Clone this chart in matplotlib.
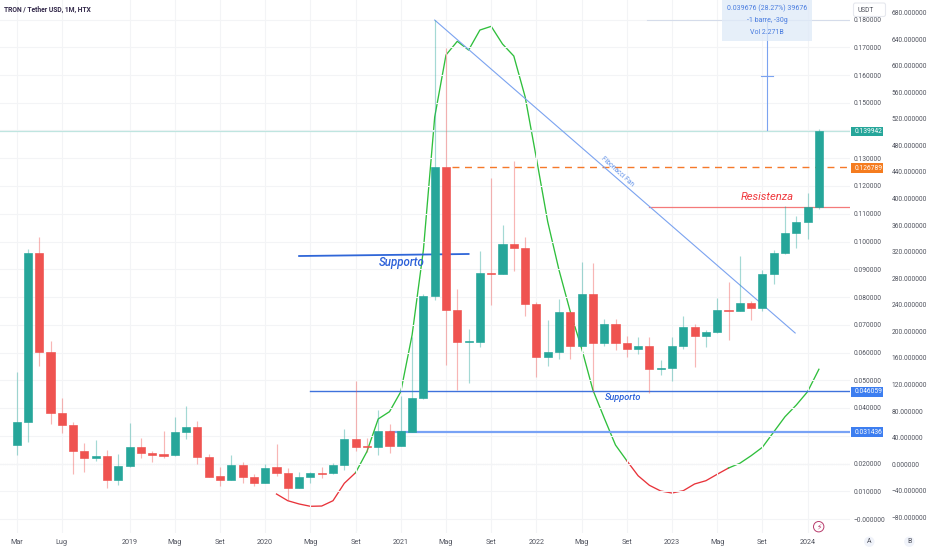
import matplotlib
matplotlib.use("Agg")
import matplotlib.pyplot as plt
from matplotlib.patches import Rectangle, Circle, FancyBboxPatch

plt.rcParams['font.family'] = ['Roboto', 'DejaVu Sans']

W, H = 932, 550

open_ = [.02655,.03495,.09598,.06006,.03808,.03375,.02450,.02198,.02258,.01393,.01898,.02583,.02366,.02330,.02294,.03123,.03315,.02234,.01538,.01417,.01946,.01526,.01309,.01862,.01670,.01129,.01526,.01658,.01646,.01934,.02883,.02619,.02595,.03159,.02631,.03147,
         .04348,.08048,.12685,.07532,.06390,.06390,.08865,.08829,.09910,.09754,.07748,.05838,.06030,.07459,.06246,.08108,.06330,.07027,.06354,.06138,.06246,.05405,.05453,.06246,.06907,.06595,.06739,.07532,.07496,.07772,.07604,.08841,.09574,.10318,.10703,.11255]
close = [.03495,.09598,.06006,.03808,.03375,.02450,.02198,.02258,.01405,.01898,.02583,.02366,.02306,.02282,.03123,.03315,.02234,.01514,.01417,.01946,.01514,.01309,.01850,.01658,.01129,.01526,.01646,.01634,.01946,.02883,.02607,.02583,.03159,.02631,.03159,.04360,
         .08048,.12685,.07532,.06390,.06400,.08865,.08829,.09910,.09754,.07748,.05838,.06030,.07459,.06246,.08108,.06330,.07027,.06354,.06138,.06246,.05405,.05453,.06246,.06907,.06595,.06739,.07520,.07508,.07772,.07604,.08841,.09574,.10318,.10703,.11255,.13994]
high = [.05309,.09742,.10174,.06402,.04348,.03495,.02727,.02835,.02498,.02330,.03447,.02907,.02450,.03159,.03688,.04072,.03544,.02342,.01862,.02294,.02054,.01622,.01982,.02691,.01838,.01682,.01706,.01862,.02018,.03243,.04985,.02907,.03928,.03423,.04432,.06570,
        .08108,.17980,.16970,.08288,.06835,.09646,.12276,.10607,.12913,.10174,.07808,.07159,.07940,.07471,.09249,.09213,.07195,.07207,.06595,.06547,.06547,.05730,.06559,.07303,.07015,.06811,.07964,.08553,.09477,.07844,.08961,.09682,.11279,.10919,.11760,.14054]
low = [.02318,.02787,.05514,.03411,.03111,.01610,.01706,.02078,.01105,.01213,.01862,.02210,.02066,.02198,.02270,.02895,.01982,.01514,.01201,.01405,.01285,.01189,.01285,.01562,.00685,.01129,.01285,.01489,.01634,.01766,.02450,.02402,.02294,.02366,.02631,.03147,
       .04310,.07892,.05550,.04649,.04913,.06210,.07712,.08817,.08937,.07315,.05117,.05514,.05754,.05766,.06234,.04589,.06234,.06090,.05838,.05946,.04553,.05189,.04973,.06114,.05489,.06210,.06691,.06450,.07484,.07171,.07508,.08468,.09562,.09766,.10102,.11183]

osc_start = 23
osc = [-44.7,-54.8,-59.7,-63.2,-62.8,-54.8,-28.6,-12.6,19,68.2,79.2,109.3,194.6,322.5,522.6,616,636.6,623.4,653.5,659.1,632.5,614.4,553.2,460.5,365.1,292.4,229.6,174.6,111.8,69.7,29,5.4,-17.2,-31.6,-40.2,-43.2,-39.7,-29.6,-24.7,-15,-5.6,1.5,12.9,25.6,48.6,71.6,89.2,109.3,143]

xtick_pos = [0,4,10,14,18,22,26,30,34,38,42,46,50,54,58,62,66,70]
xtick_labels = ['Mar','Lug','2019','Mag','Set','2020','Mag','Set','2021','Mag','Set','2022','Mag','Set','2023','Mag','Set','2024']
price_ticks = [i/100 for i in range(19)]
hidden_prices = (3, 14)   # covered by the price badges in the reference
price_labels = ['−0.000000'] + ['' if i in hidden_prices else f'{i/100:.6f}' for i in range(1,19)]
osc_ticks = list(range(-80, 681, 40))
osc_labels = [(f'−{abs(v):.6f}' if v < 0 else f'{v:.6f}') for v in osc_ticks]

last_price = 0.139942
orange_level = 0.126789
resist_level = 0.11255
support_1 = 0.046059
support_2 = 0.031436

TEAL, RED = '#26a69a', '#ef5350'
BLUE = '#3f72dc'
LBLUE = '#7ba3f0'
TXT = '#50535e'
FS = 4.75

fig = plt.figure(figsize=(W/100, H/100), dpi=100, facecolor='white')
rect = [0, 1-533/H, 850/W, 533/H]
ax2 = fig.add_axes(rect, zorder=1)
ax = fig.add_axes(rect, zorder=2)
ax.patch.set_visible(False)

xl = (-16.6/11.3, (850-16.6)/11.3)
ax.set_xlim(*xl); ax2.set_xlim(*xl)
ax.set_ylim(-14/2775, 519/2775)
ax2.set_ylim((464.3-533)/.6645, 464.3/.6645)

for s in list(ax.spines.values()) + list(ax2.spines.values()):
    s.set_visible(False)

ax.yaxis.tick_right()
ax.set_yticks(price_ticks); ax.set_yticklabels(price_labels)
ax.tick_params(axis='y', length=0, pad=2.8, labelsize=FS, labelcolor=TXT)
ax.set_xticks(xtick_pos); ax.set_xticklabels(xtick_labels)
ax.tick_params(axis='x', length=0, pad=4.4, labelsize=5.2, labelcolor=TXT)
ax.grid(True, color='#f3f4f6', lw=0.8)
ax.set_axisbelow(True)

ax2.yaxis.tick_right()
ax2.set_yticks(osc_ticks); ax2.set_yticklabels(osc_labels)
ax2.tick_params(axis='y', length=0, pad=30.0, labelsize=FS, labelcolor=TXT)
ax2.set_xticks([])

# oscillator: one continuous path per colour run
def osc_color(i):
    return '#e8333a' if osc[i] < 0 else '#2fbf3c'

run_start = 0
for i in range(1, len(osc)):
    if i == len(osc)-1 or osc_color(i+1) != osc_color(i):
        xs = [osc_start+j for j in range(run_start, i+1)]
        ax2.plot(xs, osc[run_start:i+1], color=osc_color(i), lw=0.95, solid_joinstyle='round')
        run_start = i
ax2.axhline(0, color='#cfcfd4', lw=0.8, ls=(0, (1, 1)))

# drawings (under the candles)
ax.axhline(last_price, color='#bfe5e0', lw=0.9, zorder=1.5)
ax.plot([38.5, xl[1]], [orange_level]*2, color='#f5792a', lw=1.0, ls=(0, (5, 4)), zorder=1.5)
ax.plot([56, xl[1]], [resist_level]*2, color='#f47a7a', lw=0.9, zorder=1.5)
ax.plot([26, xl[1]], [support_1]*2, color=BLUE, lw=1.0, zorder=1.5)
ax.plot([33, xl[1]], [support_2]*2, color='#78a2f5', lw=1.6, zorder=1.5)
ax.plot([25, 40], [.09477, .0955], color='#2f66d8', lw=1.3, zorder=1.5)
ax.plot([37, 68.9], [.1798, .06703], color=LBLUE, lw=0.8, zorder=1.5)
ax.plot([55.8, xl[1]], [.1798]*2, color='#d5dcea', lw=0.8, zorder=1.5)
ax.plot([66.4, 66.4], [.1402, .1798], color=LBLUE, lw=0.8, zorder=1.8)
ax.plot([65.9, 66.9], [.1598, .1598], color=LBLUE, lw=0.8, zorder=1.8)

# candles
for i, (o, h, l, c) in enumerate(zip(open_, high, low, close)):
    col = TEAL if c >= o else RED
    ax.plot([i, i], [l, h], color=col, alpha=.42, lw=0.85, zorder=2, solid_capstyle='butt')
    ax.bar(i, abs(c-o), bottom=min(o, c), width=.72, color=col, edgecolor=col, linewidth=.45, zorder=3)

# overlay in pixel coordinates
ov = fig.add_axes([0, 0, 1, 1], zorder=5)
ov.set_xlim(0, W); ov.set_ylim(H, 0); ov.axis('off')

ov.add_patch(Rectangle((722, 0), 90, 41, fc='#e0ebf8', ec='none', alpha=.8, zorder=1))
for t, y in [('0.039676 (28.27%) 39676', 8), ('-1 barre, -30g', 20.5), ('Vol 2.271B', 33)]:
    ov.text(767, y, t, ha='center', va='center', fontsize=5, color='#4a7de0', zorder=2)

ov.text(4, 9.5, 'TRON / Tether USD, 1M, HTX', ha='left', va='center', fontsize=4.85,
        color='#33294a', fontweight='bold')
ov.text(379, 262.7, 'Supporto', ha='left', va='center', fontsize=8.3, style='italic',
        fontweight='medium', color='#2a5fd8')
ov.text(605, 398, 'Supporto', ha='left', va='center', fontsize=6.6, style='italic',
        fontweight='medium', color='#2a5fd8')
ov.text(740.5, 196.7, 'Resistenza', ha='left', va='center', fontsize=8.1, style='italic',
        color='#f0393e')
ov.text(617.5, 171.5, 'Fibonacci Fan', ha='center', va='center', fontsize=4.8, rotation=-42,
        color='#5e8fe8', rotation_mode='anchor')

for y0, y1, col, t in [(127, 136, TEAL, '0.139942'), (163.3, 172.7, '#f57c1f', '0.126789'),
                       (387, 396.7, '#3d7ef0', '0.046059'), (427, 437, '#3d7ef0', '0.031436')]:
    ov.add_patch(Rectangle((851, y0), 32, y1-y0, fc=col, ec='none', zorder=3))
    ov.text(855, (y0+y1)/2, t, ha='left', va='center', fontsize=FS, color='white', zorder=4)

ov.add_patch(FancyBboxPatch((854, 3.5), 31, 12.5, boxstyle='round,pad=0.5,rounding_size=2',
                            fc='white', ec='#e6e8ee', lw=0.8, zorder=3))
ov.text(857.5, 10, 'USDT', ha='left', va='center', fontsize=FS, color=TXT, zorder=4)

for x, t in [(869.3, 'A'), (909.3, 'B')]:
    ov.add_patch(Circle((x, 541.7), 5.2, fc='#f0f3fa', ec='none'))
    ov.text(x, 541.7, t, ha='center', va='center', fontsize=5, color=TXT)
ov.add_patch(Circle((818.7, 526.7), 5.2, fc='white', ec='#b83a6b', lw=0.7))
ov.text(818.7, 526.7, '⚡', ha='center', va='center', fontsize=5.5, color='#b83a6b',
        family=['DejaVu Sans'])

fig.savefig('out.png', dpi=100, facecolor='white')
